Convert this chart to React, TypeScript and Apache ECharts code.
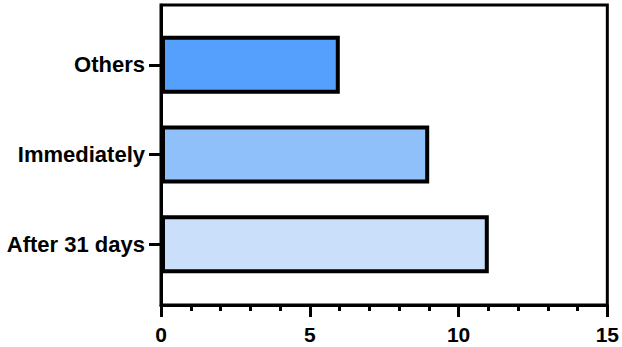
import React, { useEffect, useRef } from "react";
import * as echarts from "echarts";

const categories = ["After 31 days", "Immediately", "Others"];
const values = [11, 9, 6];
const barColors = ["#c9dffa", "#90c0fa", "#559ffd"];
const xTicks = { min: 0, max: 15, interval: 5 };

export default function App() {
  const ref = useRef<HTMLDivElement>(null);
  useEffect(() => {
    if (!ref.current) return;
    const chart = echarts.init(ref.current, null, { renderer: "svg" });
    const font = "'Liberation Sans', Arial, Helvetica, sans-serif";
    chart.setOption({
      animation: false,
      grid: [
        { left: 161, right: 14, top: 5, bottom: 42, show: true, borderColor: "#000", borderWidth: 3, backgroundColor: "transparent" },
        { left: 161, right: 14, top: 20, height: 269 },
      ],
      xAxis: [
        {
          gridIndex: 0,
          type: "value",
          min: xTicks.min,
          max: xTicks.max,
          interval: xTicks.interval,
          splitLine: { show: false },
          axisLine: { show: true, lineStyle: { color: "#000", width: 3 } },
          axisTick: { show: true, length: 12, lineStyle: { color: "#000", width: 3 } },
          minorTick: { show: true, splitNumber: 5, length: 6, lineStyle: { color: "#000", width: 3 } },
          axisLabel: { color: "#000", fontSize: 21, fontWeight: "bold", fontFamily: font, margin: 19 },
        },
        {
          gridIndex: 1,
          type: "value",
          min: xTicks.min,
          max: xTicks.max,
          interval: xTicks.interval,
          show: false,
          splitLine: { show: false },
        },
      ],
      yAxis: [
        {
          gridIndex: 0,
          type: "value",
          min: 0,
          max: 1,
          axisLine: { show: true, lineStyle: { color: "#000", width: 3 } },
          axisTick: { show: false },
          axisLabel: { show: false },
          splitLine: { show: false },
        },
        {
          gridIndex: 1,
          type: "category",
          data: categories,
          axisLine: { show: false },
          axisTick: { show: true, alignWithLabel: true, length: 12, lineStyle: { color: "#000", width: 3 } },
          axisLabel: { color: "#000", fontSize: 22, fontWeight: "bold", fontFamily: font, margin: 16 },
          splitLine: { show: false },
        },
      ],
      series: [
        {
          type: "bar",
          xAxisIndex: 1,
          yAxisIndex: 1,
          barWidth: 58,
          data: values.map((v, i) => ({
            value: v,
            itemStyle: { color: barColors[i], borderColor: "#000", borderWidth: 4 },
          })),
        },
      ],
    });
    return () => chart.dispose();
  }, []);
  return <div ref={ref} style={{ width: 622, height: 347, position: "absolute", left: 0, top: 0 }} />;
}
